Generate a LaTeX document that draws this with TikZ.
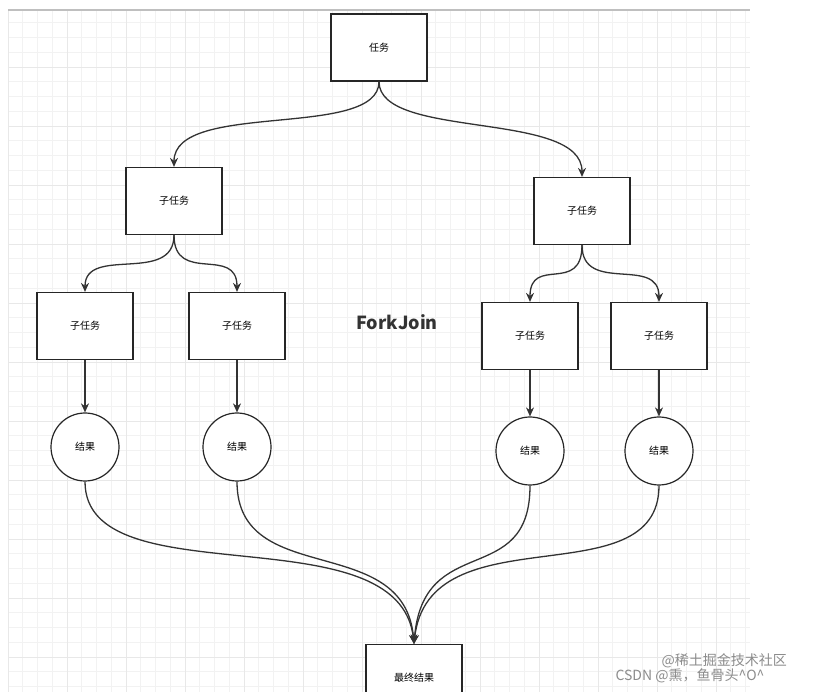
\documentclass[tikz,border=0pt]{standalone}
\usepackage{fontspec}
\setmainfont{Noto Sans CJK SC}
\usetikzlibrary{arrows.meta}
\begin{document}
\begin{tikzpicture}[x=1pt,y=-1pt,
  box/.style={draw=black!85,line width=1.2pt,fill=white,minimum width=96pt,minimum height=67pt,inner sep=0pt,font=\fontsize{10}{11}\selectfont},
  res/.style={circle,draw=black!85,line width=1.2pt,fill=white,minimum size=68pt,inner sep=0pt,font=\fontsize{10}{11}\selectfont},
  conn/.style={draw=black!80,line width=1.3pt,-{Stealth[length=9pt,width=8pt]}},
  wm/.style={text=black!45,font=\fontsize{14}{15}\selectfont}]
\useasboundingbox (0,0) rectangle (836,692);
\fill[white] (0,0) rectangle (836,692);
\begin{scope}
\clip (8,10) rectangle (750,692);
\foreach \i in {0,...,51} {
  \draw[black!5,line width=0.6pt] (8+\i*14.75,10) -- (8+\i*14.75,692);
  \draw[black!5,line width=0.6pt] (8,8+\i*14.75) -- (750,8+\i*14.75);
}
\foreach \i in {0,...,13} {
  \draw[black!9,line width=0.8pt] (8+\i*59,10) -- (8+\i*59,692);
  \draw[black!9,line width=0.8pt] (8,8+\i*59) -- (750,8+\i*59);
}
\end{scope}
\draw[black!25,line width=2pt] (8,10) -- (750,10);
\node[box] (t) at (379,47.5) {任务};
\node[box] (l) at (174,201) {子任务};
\node[box] (r) at (582,211) {子任务};
\node[box] (ll) at (85,326) {子任务};
\node[box] (lr) at (237,326) {子任务};
\node[box] (rl) at (530,336) {子任务};
\node[box] (rr) at (659,336) {子任务};
\node[res] (c1) at (85,447) {结果};
\node[res] (c2) at (237,447) {结果};
\node[res] (c3) at (530,451) {结果};
\node[res] (c4) at (659,451) {结果};
\node[box] (f) at (414,678) {最终结果};
\node[font=\fontsize{18}{20}\selectfont\bfseries,text=black!80] (fj) at (397,322) {ForkJoin};
\draw[conn] (t.south) .. controls (379,140) and (174,100) .. (l.north);
\draw[conn] (t.south) .. controls (379,140) and (582,110) .. (r.north);
\draw[conn] (l.south) .. controls (174,285) and (85,245) .. (ll.north);
\draw[conn] (l.south) .. controls (174,285) and (237,245) .. (lr.north);
\draw[conn] (r.south) .. controls (582,295) and (530,255) .. (rl.north);
\draw[conn] (r.south) .. controls (582,295) and (659,255) .. (rr.north);
\draw[conn] (ll.south) -- (c1.north);
\draw[conn] (lr.south) -- (c2.north);
\draw[conn] (rl.south) -- (c3.north);
\draw[conn] (rr.south) -- (c4.north);
\draw[conn] (c1.south) .. controls (85,600) and (400,510) .. (f.north);
\draw[conn] (c2.south) .. controls (237,590) and (405,530) .. (f.north);
\draw[conn] (c3.south) .. controls (530,590) and (423,530) .. (f.north);
\draw[conn] (c4.south) .. controls (659,600) and (428,510) .. (f.north);
\node[wm,anchor=west] (w1) at (658,661) {@稀土掘金技术社区};
\node[wm,anchor=west] (w2) at (612,676) {CSDN @熏，鱼骨头\^{}O\^{}};
\end{tikzpicture}
\end{document}
